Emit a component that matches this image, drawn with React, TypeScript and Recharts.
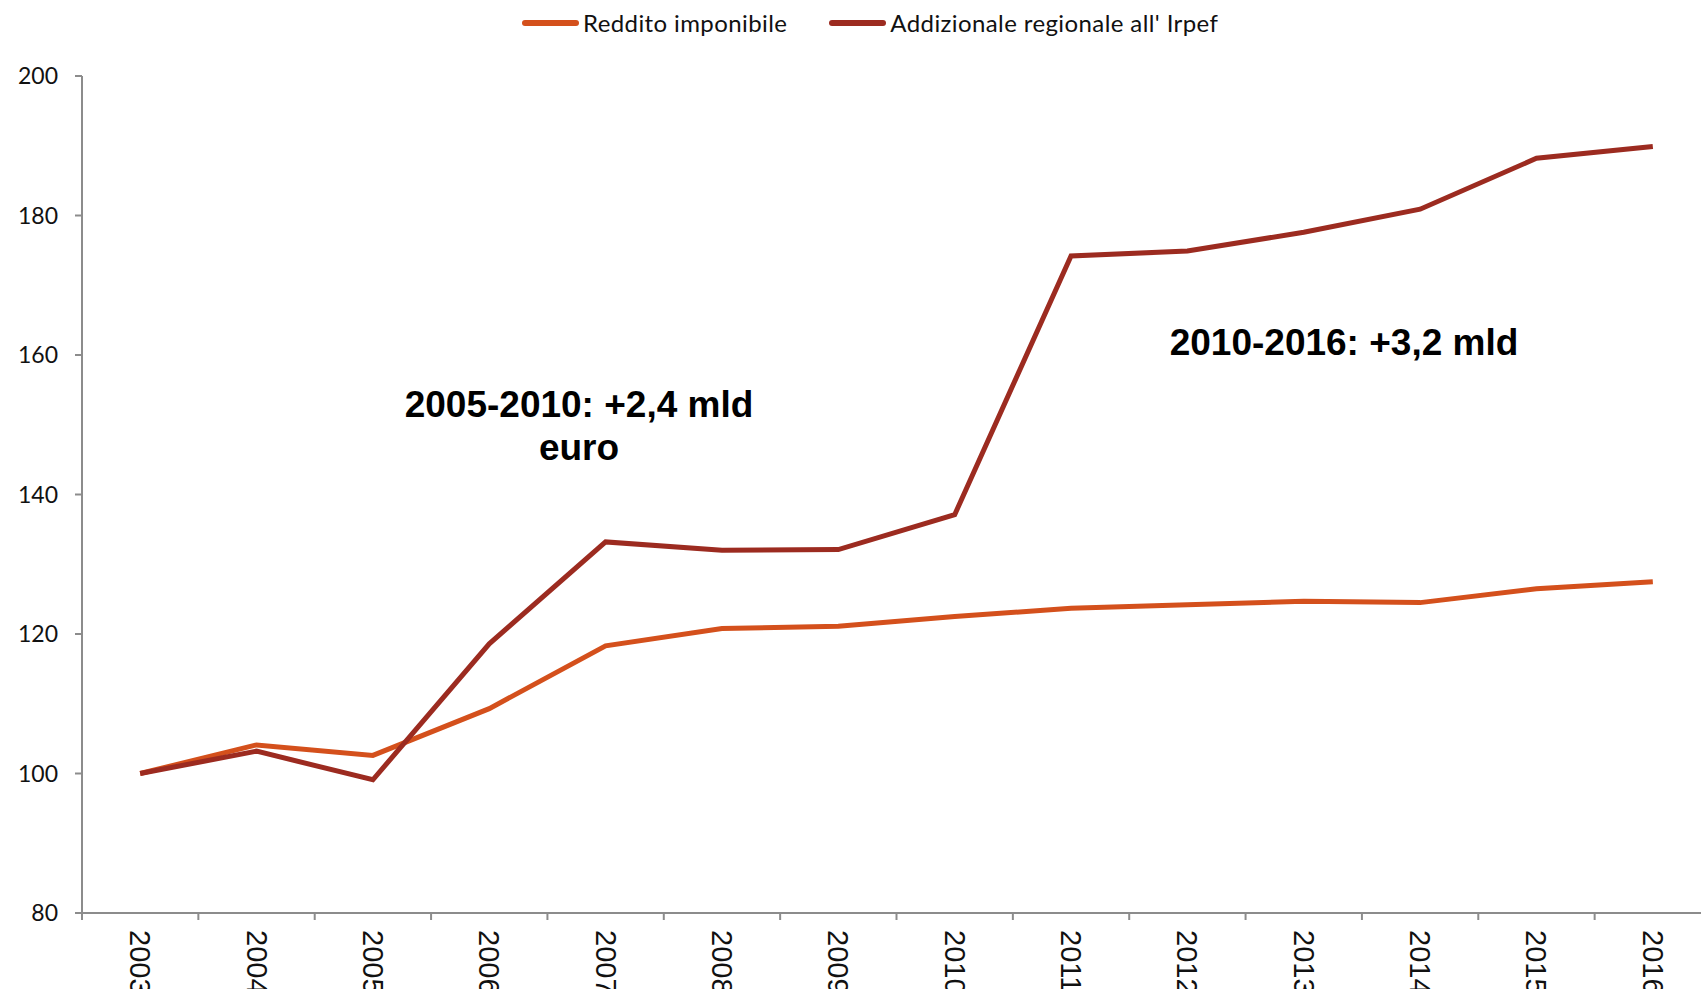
import { LineChart, Line, XAxis, YAxis, Legend, Customized } from "recharts";

const years = ["2003", "2004", "2005", "2006", "2007", "2008", "2009", "2010", "2011", "2012", "2013", "2014", "2015", "2016"];
const reddito = [100, 104.1, 102.6, 109.3, 118.3, 120.8, 121.1, 122.5, 123.7, 124.2, 124.7, 124.5, 126.5, 127.5];
const addizionale = [100, 103.2, 99.1, 118.6, 133.2, 132.0, 132.1, 137.1, 174.2, 174.9, 177.6, 180.9, 188.2, 189.9];
const yTicks = [80, 100, 120, 140, 160, 180, 200];

const data = years.map((y, i) => ({ year: y, reddito: reddito[i], addizionale: addizionale[i] }));

const ORANGE = "#D4501C";
const DARKRED = "#9C2B20";
const AXIS = "#8c8c8c";

const CHART_W = 1720;
const PLOT_LEFT = 82;
const PLOT_RIGHT_MARGIN = 9;
const BAND = (CHART_W - PLOT_LEFT - PLOT_RIGHT_MARGIN) / years.length;

const legendItems = [
  { name: "Reddito imponibile", color: ORANGE },
  { name: "Addizionale regionale all' Irpef", color: DARKRED },
];

function ChartLegend() {
  return (
    <div style={{ height: 45, display: "flex", alignItems: "center", paddingLeft: 522 }}>
      {legendItems.map((it, i) => (
        <div key={it.name} style={{ display: "flex", alignItems: "center", marginLeft: i ? 42 : 0 }}>
          <span style={{ width: 57, height: 6, borderRadius: 3, background: it.color, display: "inline-block" }} />
          <span style={{ fontFamily: "Lato, sans-serif", fontSize: 24, letterSpacing: 0.4, color: "#111", marginLeft: 4 }}>
            {it.name}
          </span>
        </div>
      ))}
    </div>
  );
}

// label centred on the category, tick mark on the boundary before it
function YearTick(props: any) {
  const { x, y, payload } = props;
  return (
    <g transform={`translate(${x},${y})`}>
      <line x1={-BAND / 2} x2={-BAND / 2} y1={0} y2={7} stroke={AXIS} strokeWidth={2} />
      <text
        transform="rotate(90)"
        x={17}
        y={0}
        textAnchor="start"
        dominantBaseline="central"
        fontFamily="'Liberation Sans', Arial, sans-serif"
        fontSize={29}
        fill="#111"
      >
        {payload.value}
      </text>
    </g>
  );
}

function Notes() {
  const style = { fontFamily: "'Liberation Sans', Arial, sans-serif", fontSize: 37, fontWeight: 700, fill: "#000" };
  return (
    <g>
      <text x={579} y={417} textAnchor="middle" style={style}>2005-2010: +2,4 mld</text>
      <text x={579} y={460} textAnchor="middle" style={style}>euro</text>
      <text x={1344} y={355} textAnchor="middle" style={style}>2010-2016: +3,2 mld</text>
    </g>
  );
}

export default function App() {
  return (
    <div style={{ position: "absolute", left: 0, top: 0, width: 1701, height: 989, overflow: "hidden", background: "#fff" }}>
      <LineChart
        width={CHART_W}
        height={989}
        data={data}
        margin={{ top: 31, right: PLOT_RIGHT_MARGIN, left: 0, bottom: 0 }}
      >
        <Legend
          verticalAlign="top"
          align="left"
          content={<ChartLegend />}
          wrapperStyle={{ top: 0, left: 0, width: CHART_W }}
        />
        <XAxis
          dataKey="year"
          height={76}
          interval={0}
          padding={{ left: BAND / 2, right: BAND / 2 }}
          stroke={AXIS}
          strokeWidth={2}
          tickLine={false}
          tickSize={0}
          tickMargin={0}
          tick={<YearTick />}
        />
        <YAxis
          width={PLOT_LEFT}
          domain={[80, 200]}
          ticks={yTicks}
          interval={0}
          stroke={AXIS}
          strokeWidth={2}
          tickSize={7}
          tickMargin={17}
          tick={{ fill: "#111", fontSize: 23, fontFamily: "Lato, sans-serif" }}
        />
        <Line
          type="linear"
          dataKey="reddito"
          name="Reddito imponibile"
          stroke={ORANGE}
          strokeWidth={5}
          dot={false}
          isAnimationActive={false}
        />
        <Line
          type="linear"
          dataKey="addizionale"
          name="Addizionale regionale all' Irpef"
          stroke={DARKRED}
          strokeWidth={5}
          dot={false}
          isAnimationActive={false}
        />
        <Customized component={<Notes />} />
      </LineChart>
    </div>
  );
}
